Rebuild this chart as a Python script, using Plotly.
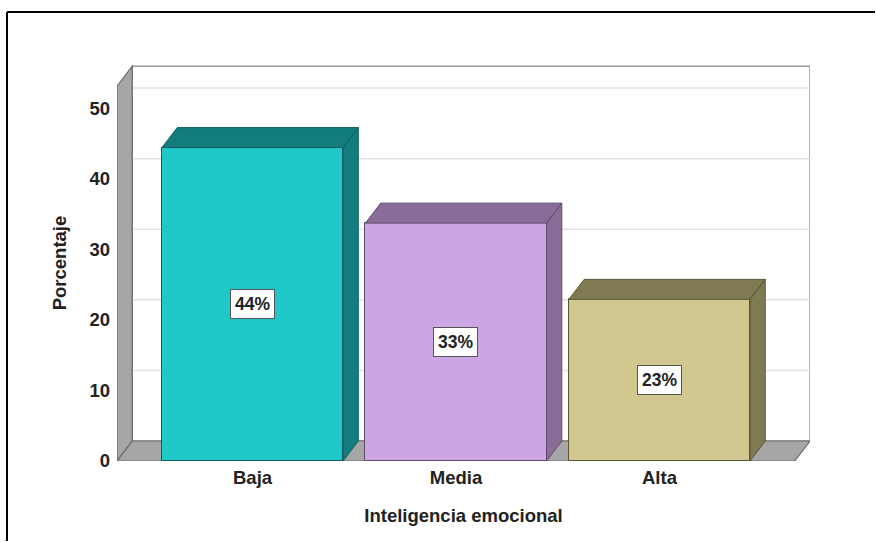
import plotly.graph_objects as go

# ---- data ----
categories = ["Baja", "Media", "Alta"]
percentages = [44.4, 33.7, 22.9]
value_labels = ["44%", "33%", "23%"]
y_ticks = [0, 10, 20, 30, 40, 50]
x_title = "Inteligencia emocional"
y_title = "Porcentaje"

# ---- style ----
front_colors = ["#1FC9CA", "#CBA6E2", "#D1C88F"]
shade_colors = ["#137D7D", "#8A6C99", "#807A52"]
edge_colors = ["#0C5E5E", "#5E4A6A", "#5A5635"]
FONT = "Liberation Sans, Arial, sans-serif"
TXT = "#222222"
FS = 18.5

BAR_W = 0.89
DX = 0.075      # depth offset (category units)
DY = 2.83       # depth offset (value units)
X_LO = -0.666
X_HI = 2.665
WALL_TOP = 53.1
Y_MAX = 56.1

fig = go.Figure()

# front bar faces
fig.add_trace(go.Bar(
    x=list(range(len(categories))), y=percentages, width=BAR_W,
    marker=dict(color=front_colors, line=dict(color=edge_colors, width=1)),
    showlegend=False, hoverinfo="skip"))

# side and top faces of each bar
for i, v in enumerate(percentages):
    l, r = i - BAR_W / 2, i + BAR_W / 2
    fig.add_trace(go.Scatter(
        x=[r, r, r + DX, r + DX, r], y=[0, v, v + DY, DY, 0],
        mode="lines", fill="toself", fillcolor=shade_colors[i],
        line=dict(color=edge_colors[i], width=1), showlegend=False, hoverinfo="skip"))
    fig.add_trace(go.Scatter(
        x=[l, r, r + DX, l + DX, l], y=[v, v, v + DY, v + DY, v],
        mode="lines", fill="toself", fillcolor=shade_colors[i],
        line=dict(color=edge_colors[i], width=1), showlegend=False, hoverinfo="skip"))

shapes = []
# back wall
shapes.append(dict(type="path", xref="x", yref="y", layer="below",
                   path=f"M {X_LO+DX},{DY} L {X_HI+DX},{DY} L {X_HI+DX},{WALL_TOP+DY} L {X_LO+DX},{WALL_TOP+DY} Z",
                   fillcolor="white", line=dict(color="#9a9a9a", width=1.5)))
for t in y_ticks[1:]:
    shapes.append(dict(type="line", xref="x", yref="y", layer="below",
                       x0=X_LO + DX, x1=X_HI + DX, y0=t + DY, y1=t + DY,
                       line=dict(color="#e2e2e2", width=1.5)))
# left wall
shapes.append(dict(type="path", xref="x", yref="y", layer="below",
                   path=f"M {X_LO},0 L {X_LO},{WALL_TOP} L {X_LO+DX},{WALL_TOP+DY} L {X_LO+DX},{DY} Z",
                   fillcolor="#a6a6a6", line=dict(color="#6a6a6a", width=1.2)))
# floor
shapes.append(dict(type="path", xref="x", yref="y", layer="below",
                   path=f"M {X_LO},0 L {X_HI},0 L {X_HI+DX},{DY} L {X_LO+DX},{DY} Z",
                   fillcolor="#a6a6a6", line=dict(color="#6a6a6a", width=1.2)))
# outer frame: only top and left edges are inside the picture
W, H = 876, 542
ML, MR, MT, MB = 117, 66, 65, 81
PW, PH = W - ML - MR, H - MT - MB
fx0 = (7 - ML) / PW
fx1 = (W - 1 - ML) / PW
fy1 = (H - MB - 12) / PH
fy0 = -(MB - 1) / PH
shapes.append(dict(type="line", xref="paper", yref="paper", x0=fx0, x1=fx1, y0=fy1, y1=fy1,
                   line=dict(color="black", width=2)))
shapes.append(dict(type="line", xref="paper", yref="paper", x0=fx0, x1=fx0, y0=fy0, y1=fy1,
                   line=dict(color="black", width=2)))

annotations = []
for i, v in enumerate(percentages):
    annotations.append(dict(x=i, y=v / 2, xref="x", yref="y",
                            text=f"<b>{value_labels[i]}</b>",
                            showarrow=False, bgcolor="white", bordercolor="#555555",
                            borderwidth=1, borderpad=4,
                            font=dict(family=FONT, size=17.5, color=TXT)))

fig.update_layout(
    width=W, height=H, margin=dict(l=ML, r=MR, t=MT, b=MB, autoexpand=False),
    paper_bgcolor="white", plot_bgcolor="white",
    shapes=shapes, annotations=annotations, bargap=0,
    font=dict(family=FONT, size=FS, color=TXT, weight="bold"),
    xaxis=dict(range=[X_LO, X_HI + DX], tickvals=list(range(len(categories))),
               ticktext=categories, showgrid=False, zeroline=False, showline=False,
               ticks="", ticklabelstandoff=3,
               tickfont=dict(family=FONT, size=FS, color=TXT, weight="bold"),
               title=dict(text=x_title, standoff=22,
                          font=dict(family=FONT, size=FS, color=TXT, weight="bold"))),
    yaxis=dict(range=[0, Y_MAX], tickvals=y_ticks, showgrid=False, zeroline=False,
               showline=False, ticks="", ticklabelstandoff=6,
               tickfont=dict(family=FONT, size=FS, color=TXT, weight="bold"),
               title=dict(text=y_title, standoff=17,
                          font=dict(family=FONT, size=FS, color=TXT, weight="bold"))),
)

fig.write_html("out.html")
